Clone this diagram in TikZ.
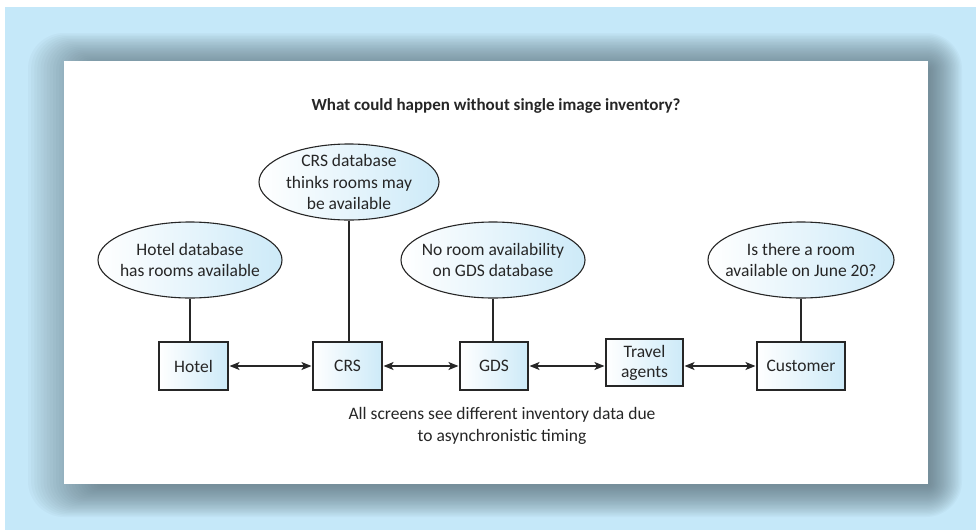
\documentclass[tikz,border=0pt]{standalone}
\usepackage{fontspec}
\setmainfont{Carlito}
\usetikzlibrary{shapes.geometric,arrows.meta}
\definecolor{bgblue}{HTML}{C5E8F9}
\definecolor{shadowc}{HTML}{50636D}
\definecolor{fillblue}{HTML}{CDEAF8}
\definecolor{ink}{HTML}{262626}
\tikzset{
  boxnode/.style={draw=ink, line width=1.1pt, left color=white, right color=fillblue,
    inner sep=0pt, align=center, text=ink, font=\fontsize{17.5}{20}\selectfont},
  ellnode/.style={ellipse, draw=ink, line width=1.1pt, left color=white, right color=fillblue,
    inner sep=0pt},
  elltext/.style={align=center, text=ink, inner sep=0pt, font=\fontsize{17.5}{21.5}\selectfont},
  conn/.style={draw=ink, line width=1.1pt},
  arr/.style={draw=ink, line width=1.1pt, {Stealth[length=10pt,width=8pt,inset=2.5pt]}-{Stealth[length=10pt,width=8pt,inset=2.5pt]}, shorten <=1pt, shorten >=1pt},
}
\begin{document}
\begin{tikzpicture}[x=1pt,y=-1pt]
\useasboundingbox (0,0) rectangle (976,530);
\fill[white] (0,0) rectangle (976,530);
\fill[bgblue] (5,7) rectangle (976,530);
\foreach \k in {0,...,23}{
  \pgfmathsetmacro\tt{\k/23}
  \pgfmathsetmacro\xa{28+\tt*(100-28)}
  \pgfmathsetmacro\ya{33+\tt*(68-33)}
  \pgfmathsetmacro\xb{962+\tt*(930-962)}
  \pgfmathsetmacro\yb{517+\tt*(486-517)}
  \pgfmathsetmacro\rr{36*(1-\tt)+2*\tt}
  \fill[shadowc, fill opacity=0.04, rounded corners=\rr pt] (\xa,\ya) rectangle (\xb,\yb);
}
\fill[white] (64,61) rectangle (928,484);

\node[font=\bfseries\fontsize{17}{20}\selectfont, text=ink] (title) at (496,106) {What could happen without single image inventory?};

% boxes
\node[boxnode, minimum width=69pt, minimum height=48pt] (hotel) at (193.5,366) {Hotel};
\node[boxnode, minimum width=69pt, minimum height=48pt] (crs) at (347.5,366) {CRS};
\node[boxnode, minimum width=68pt, minimum height=48pt] (gds) at (494,366) {GDS};
\node[boxnode, minimum width=77pt, minimum height=47pt] (travel) at (644.5,362.5) {Travel\\agents};
\node[boxnode, minimum width=88pt, minimum height=48pt] (cust) at (801,366) {Customer};

% ellipses
\node[ellnode, minimum width=184pt, minimum height=76pt] (ehotel) at (190,260) {};
\node[elltext] (thotel) at (ehotel) {Hotel database\\has rooms available};
\node[ellnode, minimum width=180pt, minimum height=76pt] (ecrs) at (349,182) {};
\node[elltext] (tcrs) at (ecrs) {CRS database\\thinks rooms may\\be available};
\node[ellnode, minimum width=184pt, minimum height=76pt] (egds) at (493,260) {};
\node[elltext] (tgds) at (egds) {No room availability\\on GDS database};
\node[ellnode, minimum width=186pt, minimum height=76pt] (ecust) at (801,260) {};
\node[elltext] (tcust) at (ecust) {Is there a room\\available on June 20?};

% vertical connectors
\draw[conn] (ehotel.south) -- (ehotel.south |- hotel.north);
\draw[conn] (ecrs.south) -- (ecrs.south |- crs.north);
\draw[conn] (egds.south) -- (egds.south |- gds.north);
\draw[conn] (ecust.south) -- (ecust.south |- cust.north);

% arrows
\draw[arr] (hotel.east) -- (crs.west);
\draw[arr] (crs.east) -- (gds.west);
\draw[arr] (gds.east) -- (gds.east -| travel.west);
\draw[arr] (cust.west -| travel.east) -- (cust.west);

\node[align=center, text=ink, font=\fontsize{17.5}{21.5}\selectfont] (note) at (502,426) {All screens see different inventory data due\\to asynchronistic timing};
\end{tikzpicture}
\end{document}
